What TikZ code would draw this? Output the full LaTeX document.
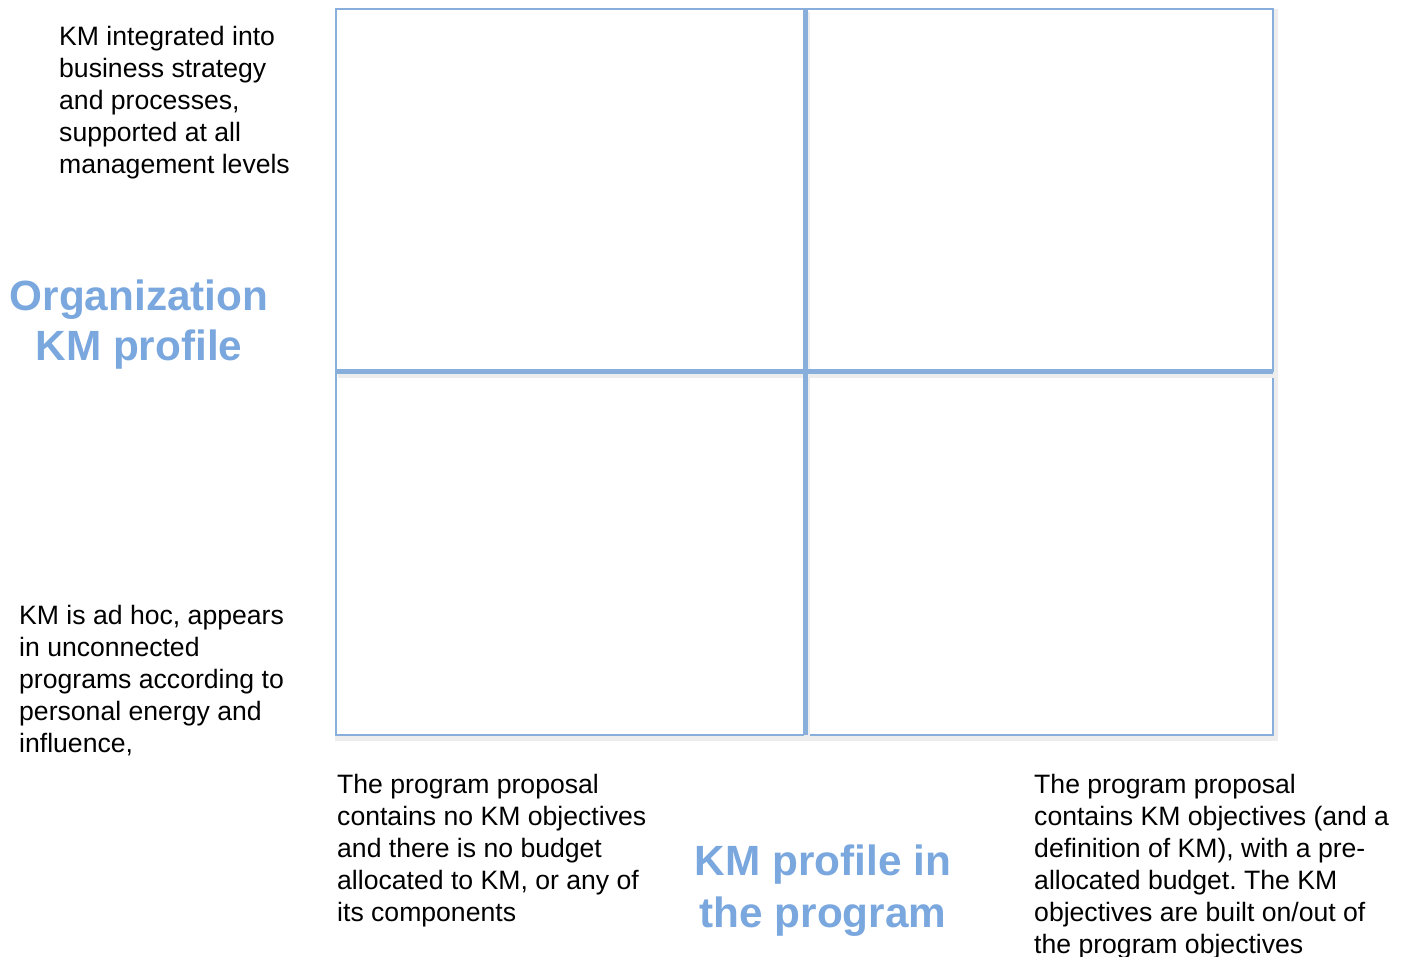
\documentclass[tikz,border=0pt]{standalone}
\usepackage{fontspec}
\setmainfont{Liberation Sans}
\usetikzlibrary{positioning}
\definecolor{kmblue}{RGB}{121,167,222}
\definecolor{gridblue}{RGB}{136,175,219}
\tikzstyle{axisText} = [anchor=north west, align=left, inner sep=0,
   font=\fontsize{26.6}{32}\selectfont]
\tikzstyle{axisTitle} = [anchor=north, align=center, inner sep=0, text=kmblue,
   font=\fontsize{42.3}{50}\selectfont\bfseries]
\tikzstyle{gridLine} = [draw=gridblue, line width=5]
\tikzstyle{gridFrame} = [draw=gridblue, line width=2.5]
\tikzstyle{gridShadow} = [draw=black!7, line width=6]

\begin{document}
\frenchspacing
\begin{tikzpicture}[x=1pt,y=-1pt]
  \useasboundingbox (0,0) rectangle (1409,957);

  % corners of the grid
  \coordinate (nw) at (336,9);
  \coordinate (se) at (1273,735);
  \coordinate (midTop) at (805,9);
  \coordinate (midBot) at (805,735);
  \coordinate (midLeft) at (336,372);
  \coordinate (midRight) at (1273,372);

  % soft shadow of the frame, then the quadrants
  \draw[gridShadow] ([shift={(2,3)}]nw) rectangle ([shift={(2,3)}]se);
  \draw[gridFrame, fill=white] (nw) rectangle (se);
  \draw[gridShadow] ([shift={(2,3)}]midTop) -- ([shift={(2,3)}]midBot);
  \draw[gridShadow] ([shift={(2,3)}]midLeft) -- ([shift={(2,3)}]midRight);
  \draw[gridLine] (midTop) -- (midBot);
  \draw[gridLine] (midLeft) -- (midRight);

  % vertical axis
  \node[axisText] (orgHigh) at (59,26) {KM integrated into\\business strategy\\and processes,\\supported at all\\management levels};
  \node[axisTitle] (orgTitle) at (139,280) {Organization\\KM profile};
  \node[axisText] (orgLow) at (19,605) {KM is ad hoc, appears\\in unconnected\\programs according to\\personal energy and\\influence,};

  % horizontal axis
  \node[axisText] (progLow) at (337,774) {The program proposal\\contains no KM objectives\\and there is no budget\\allocated to KM, or any of\\its components};
  \node[axisTitle, font=\fontsize{42.3}{52}\selectfont\bfseries] (progTitle) at (823,845) {KM profile in\\the program};
  \node[axisText] (progHigh) at (1034,774) {The program proposal\\contains KM objectives (and a\\definition of KM), with a pre-\\allocated budget. The KM\\objectives are built on/out of\\the program objectives};
\end{tikzpicture}
\end{document}
